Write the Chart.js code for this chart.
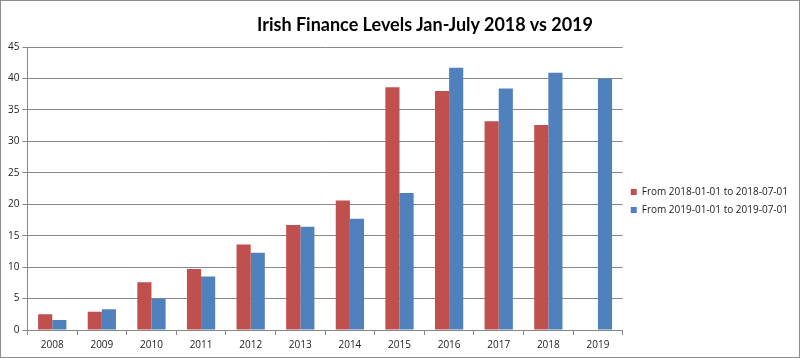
<!DOCTYPE html>
<html>
<head>
<meta charset="utf-8">
<script src="https://cdn.jsdelivr.net/npm/chart.js@4/dist/chart.umd.min.js"></script>
<style>
    html, body { margin: 0; padding: 0; background: #fff; }
    #wrap {
        position: relative;
        width: 800px;
        height: 358px;
        box-sizing: border-box;
        border: 1px solid #8c8c8c;
        background: #fff;
    }
    #title {
        position: absolute;
        top: 12px;
        left: 424px;
        transform: translateX(-50%);
        white-space: nowrap;
        font-family: "Lato", sans-serif;
        font-weight: bold;
        font-size: 18px;
        color: #000;
    }
</style>
</head>
<body>
<div id="wrap">
    <div id="title">Irish Finance Levels Jan-July 2018 vs 2019</div>
    <canvas id="financeChart"></canvas>
</div>
<script>
// Chart data
const years = ['2008', '2009', '2010', '2011', '2012', '2013', '2014', '2015', '2016', '2017', '2018', '2019'];
const period2018 = [2.5, 2.9, 7.6, 9.7, 13.6, 16.7, 20.6, 38.6, 38.0, 33.2, 32.6, null];
const period2019 = [1.6, 3.3, 5.0, 8.5, 12.3, 16.4, 17.7, 21.8, 41.7, 38.4, 40.9, 40.0];
const seriesNames = ['From 2018-01-01 to 2018-07-01', 'From 2019-01-01 to 2019-07-01'];

const tickFont = { family: 'Open Sans', size: 10 };

const ctx = document.getElementById('financeChart').getContext('2d');
new Chart(ctx, {
    type: 'bar',
    data: {
        labels: years,
        datasets: [
            {
                label: seriesNames[0],
                data: period2018,
                backgroundColor: '#C0504D',
                categoryPercentage: 0.57,
                barPercentage: 1
            },
            {
                label: seriesNames[1],
                data: period2019,
                backgroundColor: '#4F81BD',
                categoryPercentage: 0.57,
                barPercentage: 1
            }
        ]
    },
    options: {
        responsive: true,
        maintainAspectRatio: false,
        animation: false,
        layout: {
            padding: { top: 46, left: 4, right: 1, bottom: 2 }
        },
        plugins: {
            tooltip: { enabled: false },
            legend: {
                position: 'right',
                labels: {
                    boxWidth: 6,
                    boxHeight: 6,
                    padding: 8,
                    color: '#222',
                    font: { family: 'Open Sans', size: 10 }
                }
            }
        },
        scales: {
            x: {
                grid: {
                    offset: true,
                    drawOnChartArea: false,
                    drawTicks: true,
                    tickLength: 5,
                    color: '#888'
                },
                border: { color: '#888' },
                ticks: { color: '#222', font: tickFont, padding: 4 }
            },
            y: {
                min: 0,
                max: 45,
                ticks: { stepSize: 5, color: '#222', font: tickFont, padding: 3 },
                grid: { color: '#888', tickLength: 5 },
                border: { color: '#888' }
            }
        }
    }
});
</script>
</body>
</html>
